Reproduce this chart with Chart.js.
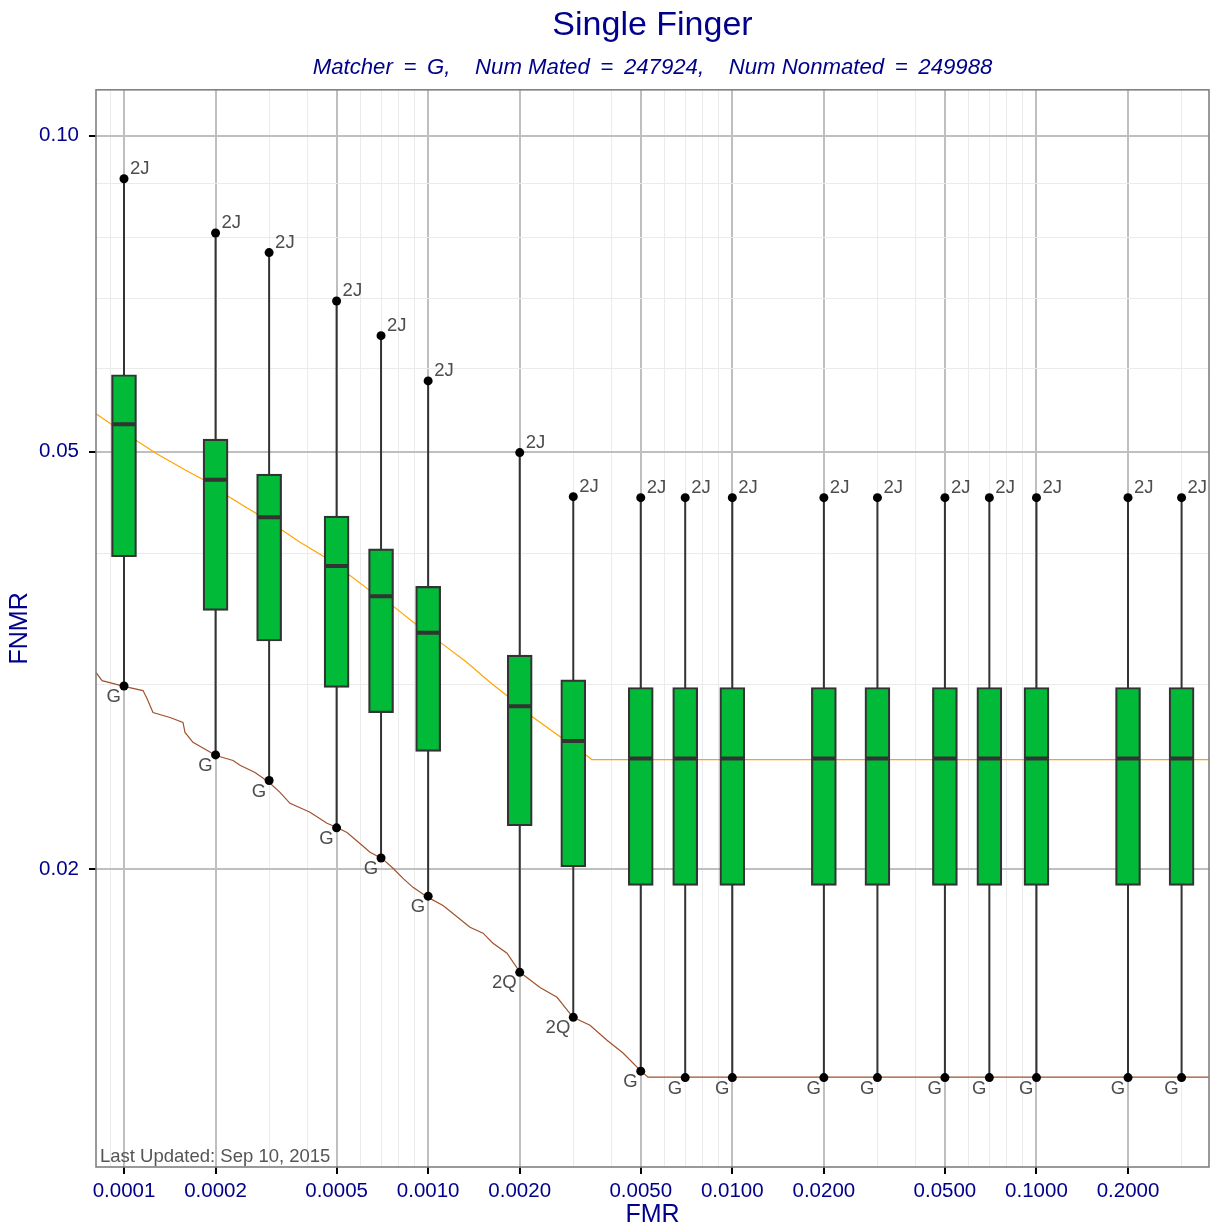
<!DOCTYPE html>
<html><head><meta charset="utf-8">
<script src="https://cdn.jsdelivr.net/npm/chart.js@4"></script>
<style>html,body{margin:0;padding:0;background:#fff}</style>
</head><body>
<canvas id="c" width="1210" height="1224"></canvas>
<script>
// ---- data ----
const fmr = [0.0001, 0.0002, 0.0003, 0.0005, 0.0007, 0.001, 0.002, 0.003, 0.005, 0.007, 0.01, 0.02, 0.03, 0.05, 0.07, 0.1, 0.2, 0.3];
const whiskerHigh = [0.0910, 0.0808, 0.0774, 0.0696, 0.0645, 0.0584, 0.0499, 0.0453, 0.0452, 0.0452, 0.0452, 0.0452, 0.0452, 0.0452, 0.0452, 0.0452, 0.0452, 0.0452];
const q3 = [0.0592, 0.0514, 0.0476, 0.0434, 0.0404, 0.0372, 0.0320, 0.0303, 0.0298, 0.0298, 0.0298, 0.0298, 0.0298, 0.0298, 0.0298, 0.0298, 0.0298, 0.0298];
const median = [0.0531, 0.0470, 0.0433, 0.0389, 0.0364, 0.0336, 0.0286, 0.0265, 0.0255, 0.0255, 0.0255, 0.0255, 0.0255, 0.0255, 0.0255, 0.0255, 0.0255, 0.0255];
const q1 = [0.0397, 0.0353, 0.0330, 0.0298, 0.0282, 0.0259, 0.0220, 0.0201, 0.0193, 0.0193, 0.0193, 0.0193, 0.0193, 0.0193, 0.0193, 0.0193, 0.0193, 0.0193];
const whiskerLow = [0.0299, 0.0257, 0.0243, 0.0219, 0.0205, 0.01885, 0.01595, 0.01445, 0.01284, 0.01266, 0.01266, 0.01266, 0.01266, 0.01266, 0.01266, 0.01266, 0.01266, 0.01266];
const highLabels = ['2J','2J','2J','2J','2J','2J','2J','2J','2J','2J','2J','2J','2J','2J','2J','2J','2J','2J'];
const lowLabels = ['G','G','G','G','G','G','2Q','2Q','G','G','G','G','G','G','G','G','G','G'];

const orangeX = [8.09e-5, 9.11e-5, 1.101e-4, 1.281e-4, 1.607e-4, 1.818e-4, 2.231e-4, 2.731e-4, 3.333e-4, 3.791e-4, 4.580e-4, 5.535e-4, 6.438e-4, 7.780e-4, 9.054e-4, 1.108e-3, 1.339e-3, 1.597e-3, 1.813e-3, 2.212e-3, 2.673e-3, 3.321e-3, 3.449e-3, 0.3692];
const orangeY = [0.05435, 0.05306, 0.05122, 0.04978, 0.04796, 0.04703, 0.04521, 0.04364, 0.04204, 0.04098, 0.03965, 0.03810, 0.03686, 0.03551, 0.03429, 0.03283, 0.03150, 0.03015, 0.02928, 0.02792, 0.02683, 0.02567, 0.02544, 0.02544];

const brownX = [8.09e-5, 8.47e-5, 1.0076e-4, 1.1548e-4, 1.1902e-4, 1.2455e-4, 1.4166e-4, 1.5630e-4, 1.5869e-4, 1.6858e-4, 2.0069e-4, 2.2830e-4, 2.4071e-4, 2.6960e-4, 2.9978e-4, 3.2576e-4, 3.5137e-4, 4.0886e-4, 4.6500e-4, 5.0154e-4, 5.4101e-4, 6.0592e-4, 6.4376e-4, 7.0507e-4, 7.6645e-4, 8.2683e-4, 8.9165e-4, 9.9887e-4, 1.1190e-3, 1.2067e-3, 1.3725e-3, 1.5149e-3, 1.6340e-3, 1.8167e-3, 2.0045e-3, 2.3321e-3, 2.6525e-3, 2.9940e-3, 3.4052e-3, 3.8729e-3, 4.3723e-3, 5.0098e-3, 5.2822e-3, 0.3692];
const brownY = [0.03080, 0.03025, 0.02986, 0.02960, 0.02909, 0.02821, 0.02790, 0.02760, 0.02700, 0.02642, 0.02567, 0.02539, 0.02512, 0.02473, 0.02420, 0.02367, 0.02311, 0.02266, 0.02212, 0.02192, 0.02168, 0.02108, 0.02076, 0.02048, 0.02004, 0.01960, 0.01922, 0.01880, 0.01847, 0.01815, 0.01761, 0.01738, 0.01700, 0.01663, 0.01595, 0.01543, 0.01510, 0.01445, 0.01420, 0.01374, 0.01336, 0.01284, 0.01267, 0.01267];

const xMajorTicks = [0.0001, 0.0002, 0.0005, 0.001, 0.002, 0.005, 0.01, 0.02, 0.05, 0.1, 0.2];
const xTickLabels = ['0.0001','0.0002','0.0005','0.0010','0.0020','0.0050','0.0100','0.0200','0.0500','0.1000','0.2000'];
const xMinorTicks = [0.00009, 0.0003, 0.0004, 0.0006, 0.0007, 0.0008, 0.0009, 0.003, 0.004, 0.006, 0.007, 0.008, 0.009, 0.03, 0.04, 0.06, 0.07, 0.08, 0.09, 0.3];
const yMajorTicks = [0.02, 0.05, 0.1];
const yTickLabels = ['0.02','0.05','0.10'];
const yMinorTicks = [0.03, 0.04, 0.06, 0.07, 0.08, 0.09];

const xMin = 8.09e-5, xMax = 0.3692, yMin = 0.010404, yMax = 0.11062;
const titleText = 'Single Finger';
const subtitleText = 'Matcher \u2009=\u2009 G,    Num Mated \u2009=\u2009 247924,    Num Nonmated \u2009=\u2009 249988';
const updatedText = 'Last Updated: Sep 10, 2015';

// ---- helpers ----
const FAM = '"Liberation Sans", Arial, Helvetica, sans-serif';
const BLUE = '#00008B';
const idxOf = (v, arr) => arr.findIndex(m => Math.abs(m - v) / m < 1e-6);
const xGrid = xMajorTicks.concat(xMinorTicks).sort((a,b)=>a-b);
const yGrid = yMajorTicks.concat(yMinorTicks).sort((a,b)=>a-b);
function gridOpts(major) {
  return {
    offset: false,
    color: c => (c.tick && idxOf(c.tick.value, major) >= 0) ? '#bfbfbf' : '#ebebeb',
    lineWidth: c => (c.tick && idxOf(c.tick.value, major) >= 0) ? 2 : 1,
    drawTicks: true,
    tickLength: 7,
    tickWidth: 2,
    tickColor: c => (c.tick && idxOf(c.tick.value, major) >= 0) ? '#000' : 'rgba(0,0,0,0)'
  };
}
function zeroPad(s) { s.paddingLeft = 0; s.paddingRight = 0; s.paddingTop = 0; s.paddingBottom = 0; }

const annot = {
  id: 'annot',
  beforeDraw(chart) {
    const c = chart.ctx; c.save(); c.fillStyle = '#fff'; c.fillRect(0, 0, chart.width, chart.height); c.restore();
  },
  afterDatasetsDraw(chart) {
    const {ctx, chartArea: a, scales: {x, y}} = chart;
    ctx.save();
    ctx.beginPath(); ctx.rect(a.left, a.top, a.width, a.height); ctx.clip();
    ctx.font = '18.5px ' + FAM; ctx.fillStyle = '#4d4d4d'; ctx.textBaseline = 'middle';
    fmr.forEach((v, i) => {
      const px = x.getPixelForValue(v);
      ctx.textAlign = 'left';
      ctx.fillText(highLabels[i], px + 6, y.getPixelForValue(whiskerHigh[i]) - 10);
      ctx.textAlign = 'right';
      ctx.fillText(lowLabels[i], px - 3, y.getPixelForValue(whiskerLow[i]) + 11);
    });
    ctx.textAlign = 'left'; ctx.fillStyle = '#555';
    ctx.fillText(updatedText, a.left + 4, a.bottom - 10);
    ctx.restore();
    ctx.save(); ctx.strokeStyle = '#808080'; ctx.lineWidth = 1.6;
    ctx.strokeRect(a.left, a.top, a.width, a.height); ctx.restore();
  }
};

new Chart(document.getElementById('c'), {
  type: 'bar',
  data: {
    datasets: [
      { type: 'scatter', order: 0, data: fmr.flatMap((v,i)=>[{x:v,y:whiskerHigh[i]},{x:v,y:whiskerLow[i]}]),
        pointRadius: 4.5, pointBackgroundColor: '#000', pointBorderWidth: 0, pointBorderColor: '#000' },
      { type: 'scatter', order: 1, data: fmr.map((v,i)=>({x:v,y:median[i]})),
        pointStyle: 'line', pointRadius: 12, pointBorderWidth: 4, pointBorderColor: '#333', pointBackgroundColor: '#333' },
      { type: 'bar', order: 2, data: fmr.map((v,i)=>({x:v,y:[q1[i], q3[i]]})),
        barThickness: 25, backgroundColor: '#00BA38', borderColor: '#333', borderWidth: 2.2, borderSkipped: false },
      { type: 'line', order: 3, data: fmr.flatMap((v,i)=>[{x:v,y:whiskerLow[i]},{x:v,y:whiskerHigh[i]},{x:v,y:null}]),
        borderColor: '#333', borderWidth: 2, pointRadius: 0, spanGaps: false, fill: false },
      { type: 'line', order: 4, data: orangeX.map((v,i)=>({x:v,y:orangeY[i]})),
        borderColor: '#FFA500', borderWidth: 1.2, pointRadius: 0, fill: false, tension: 0 },
      { type: 'line', order: 5, data: brownX.map((v,i)=>({x:v,y:brownY[i]})),
        borderColor: '#A0522D', borderWidth: 1.2, pointRadius: 0, fill: false, tension: 0 }
    ]
  },
  options: {
    responsive: false, animation: false, events: [],
    layout: { autoPadding: false, padding: { left: 0, right: 1, top: 0, bottom: 0 } },
    plugins: {
      legend: { display: false }, tooltip: { enabled: false },
      title: { display: true, text: titleText, color: BLUE, fullSize: false,
        font: { family: FAM, size: 34, weight: 'normal' }, padding: { top: 5, bottom: 7 } },
      subtitle: { display: true, text: subtitleText, color: BLUE, fullSize: false,
        font: { family: FAM, size: 22.2, style: 'italic', weight: 'normal' }, padding: { top: 2, bottom: 8.4 } }
    },
    scales: {
      x: {
        type: 'logarithmic', min: xMin, max: xMax, bounds: 'data', offset: false,
        afterBuildTicks: s => { s.ticks = xGrid.map(v => ({ value: v })); },
        afterFit: s => { s.height = 57; zeroPad(s); },
        grid: gridOpts(xMajorTicks), border: { display: false },
        ticks: { autoSkip: false, maxRotation: 0, minRotation: 0, padding: 5, color: BLUE,
          font: { family: FAM, size: 20.5 },
          callback: v => { const k = idxOf(v, xMajorTicks); return k >= 0 ? xTickLabels[k] : ''; } },
        title: { display: true, text: 'FMR', color: BLUE, font: { family: FAM, size: 25, lineHeight: 0.7 }, padding: { top: 0, bottom: 0 } }
      },
      y: {
        type: 'logarithmic', min: yMin, max: yMax, bounds: 'data',
        afterBuildTicks: s => { s.ticks = yGrid.map(v => ({ value: v })); },
        afterFit: s => { s.width = 96; zeroPad(s); },
        grid: gridOpts(yMajorTicks), border: { display: false },
        ticks: { autoSkip: false, padding: 10, color: BLUE, font: { family: FAM, size: 20.5 },
          callback: v => { const k = idxOf(v, yMajorTicks); return k >= 0 ? yTickLabels[k] : ''; } },
        title: { display: true, text: 'FNMR', color: BLUE, font: { family: FAM, size: 25 }, padding: { top: 5, bottom: 0 } }
      }
    }
  },
  plugins: [annot]
});
</script>
</body></html>
